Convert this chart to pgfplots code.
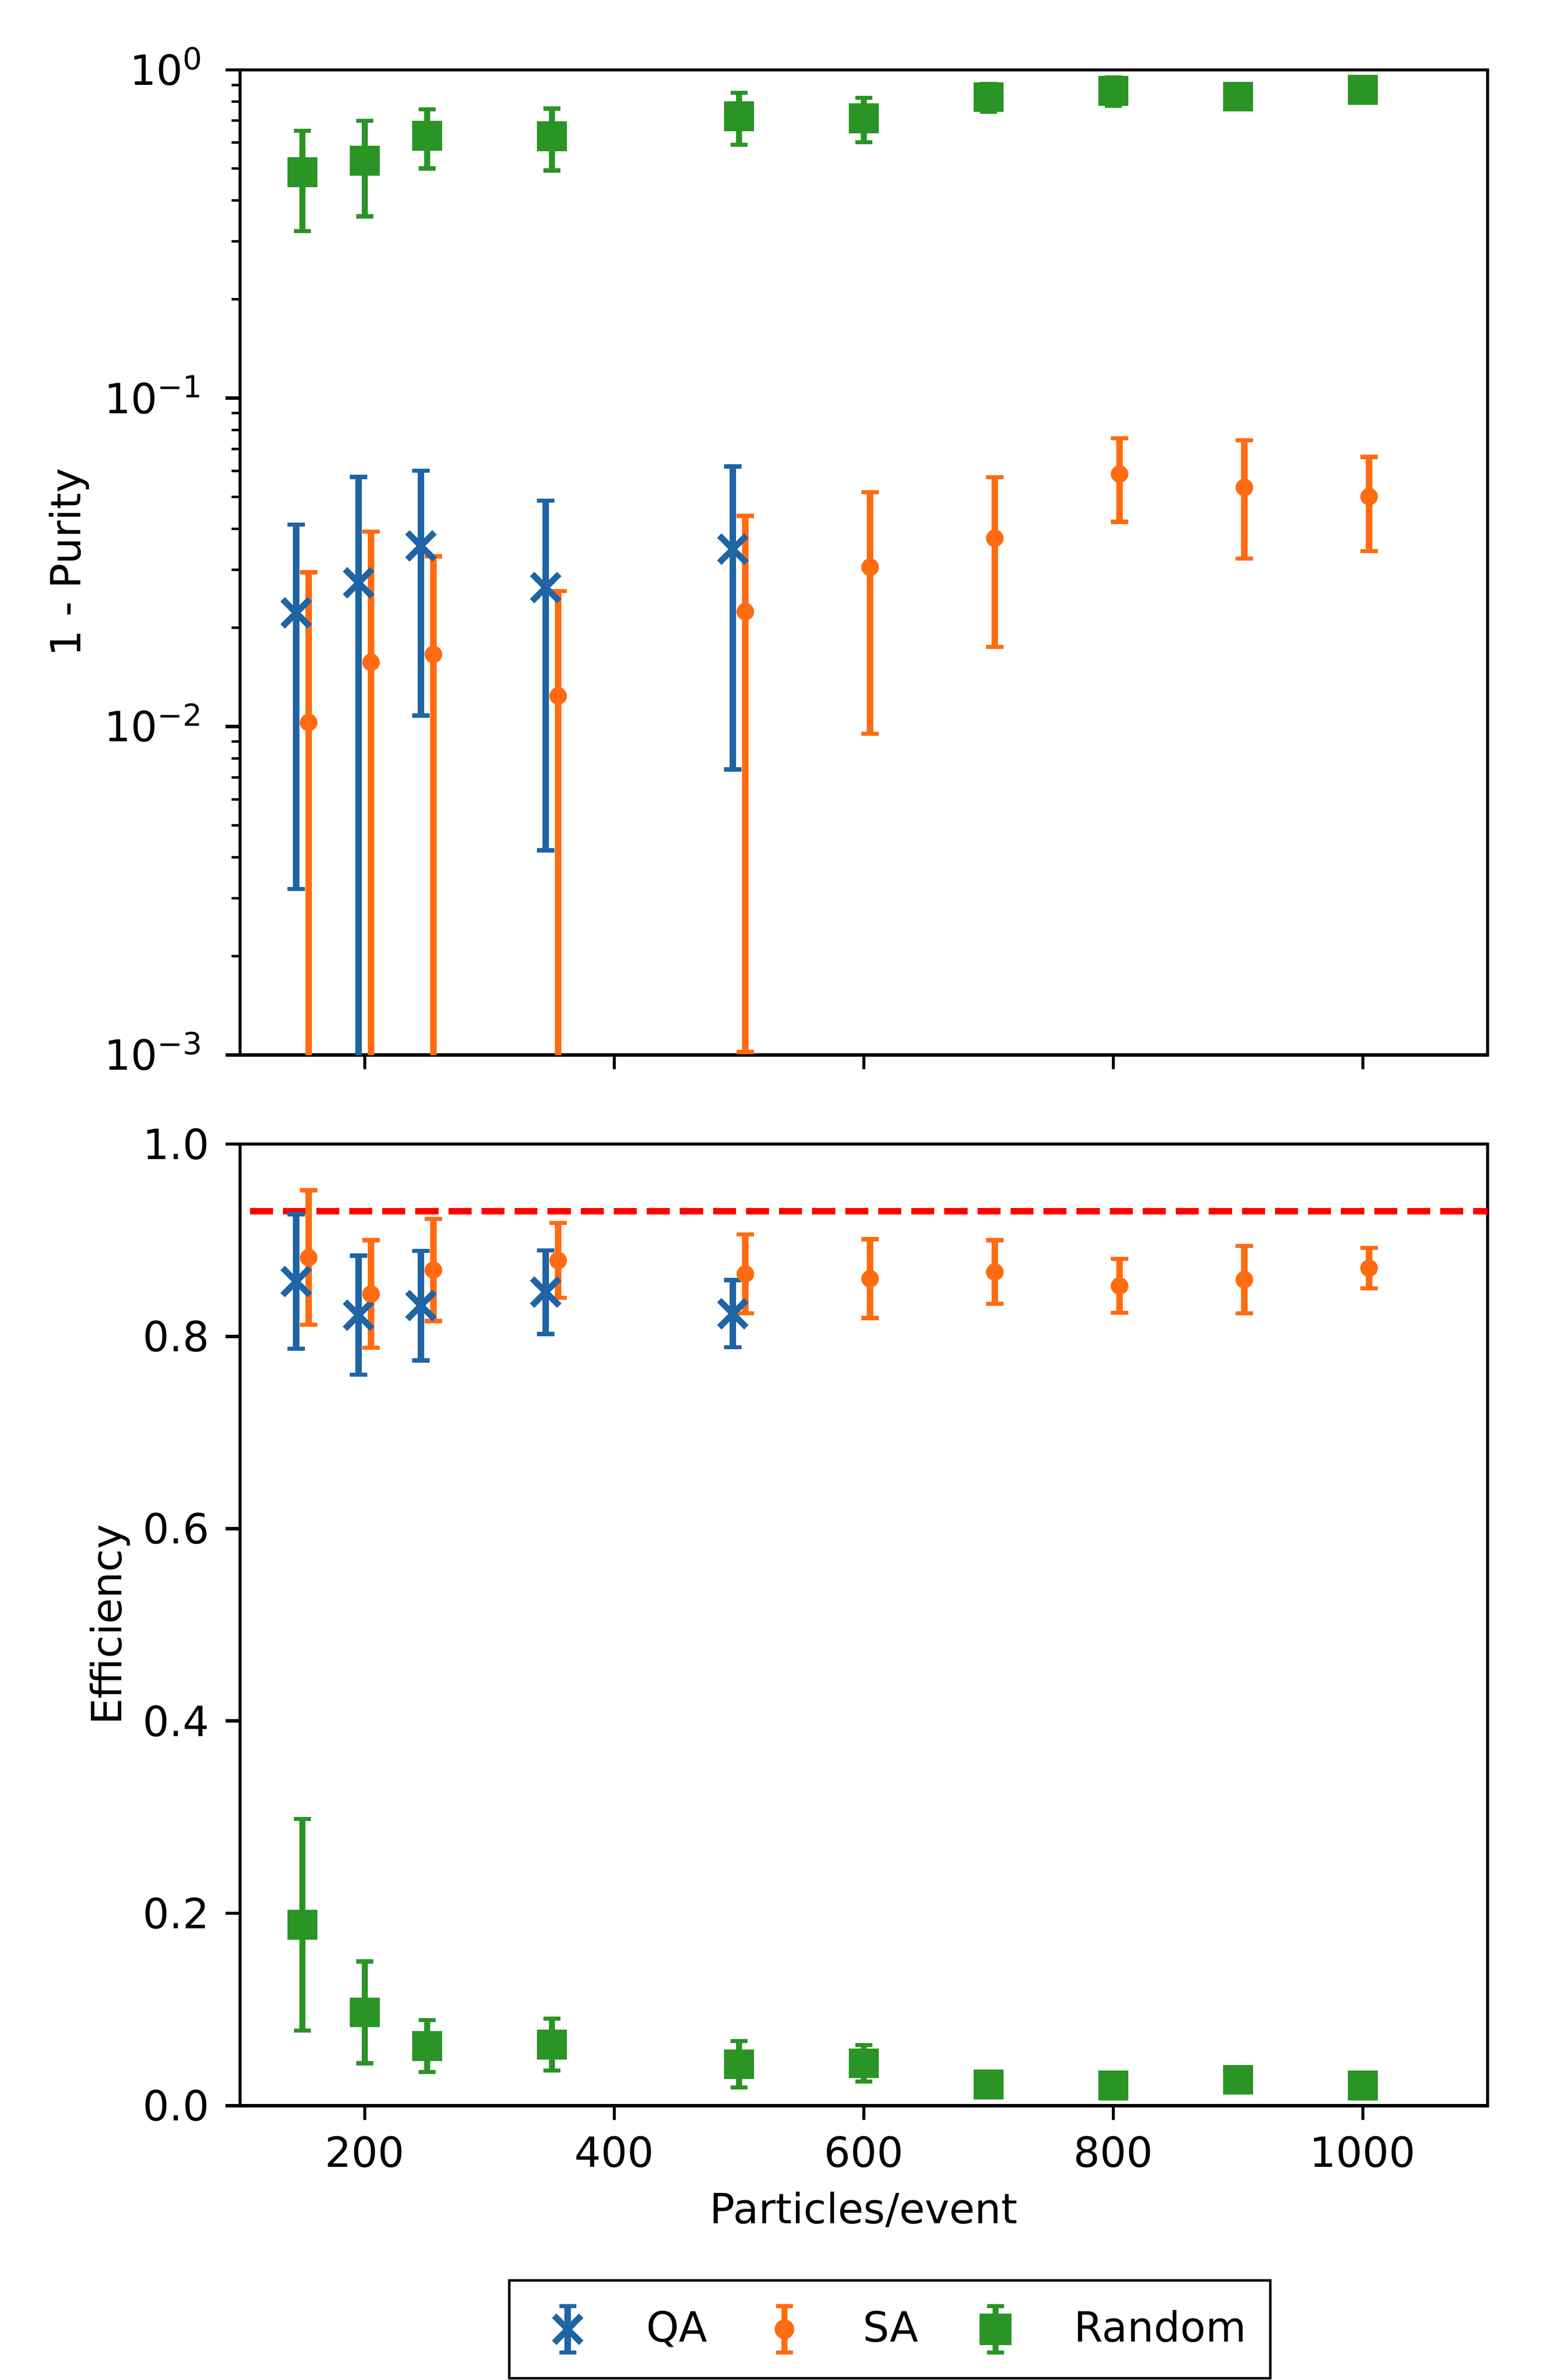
\documentclass[border=0pt]{standalone}
\usepackage{fontspec}
\setmainfont{DejaVu Sans}
\usepackage{pgfplots}
\pgfplotsset{compat=1.18}
\definecolor{qa}{RGB}{31,100,165}
\definecolor{sa}{RGB}{255,107,16}
\definecolor{rnd}{RGB}{42,148,36}
\newcommand{\tp}[1]{10\raisebox{3.75pt}[0pt][0pt]{\fontsize{7.3}{8}\selectfont #1}}
\pgfplotsset{
  common/.style={
    scale only axis, width=300pt,
    xmin=100, xmax=1100,
    xtick={200,400,600,800,1000},
    tick pos=left, tick align=outside,
    axis line style={line width=0.8pt},
    major tick style={black, line width=0.8pt},
    minor tick style={black, line width=0.6pt},
    major tick length=3.5pt, minor tick length=2pt,
    tick label style={font=\fontsize{10}{12}\selectfont},
    label style={font=\fontsize{10}{12}\selectfont},
    /pgf/number format/assume math mode=true,
    /pgf/number format/1000 sep={},
    xticklabel style={anchor=north, inner sep=0pt, yshift=-3.7pt},
    yticklabel style={anchor=east, inner sep=0pt, xshift=-3.7pt},
  },
  ebar/.style={error bars/y dir=both, error bars/y explicit,
     error bars/error bar style={line width=1.5pt, color=#1},
     error bars/error mark options={rotate=90, mark size=2.05pt, line width=1pt, color=#1}},
  qast/.style={only marks, color=qa, mark=x, mark size=4.6pt, mark options={line width=1.5pt}, ebar=qa},
  sast/.style={only marks, color=sa, mark=*, mark size=2.05pt, mark options={draw=sa, fill=sa, line width=0pt}, ebar=sa},
  rndst/.style={only marks, color=rnd, mark=square*, mark size=3.5pt, mark options={draw=rnd, fill=rnd, line width=0pt}, ebar=rnd},
}
\begin{document}
\begin{tikzpicture}
% ---------------- top panel ----------------
\begin{axis}[common,
  at={(57.72pt,318.56pt)}, anchor=south west, height=236.8pt,
  ymode=log, ymin=1e-3, ymax=1,
  ytick={0.001,0.01,0.1,1},
  yticklabels={\tp{−3},\tp{−2},\tp{−1},\tp{0}},
  minor ytick={0.002,0.003,0.004,0.005,0.006,0.007,0.008,0.009,0.02,0.03,0.04,0.05,0.06,0.07,0.08,0.09,0.2,0.3,0.4,0.5,0.6,0.7,0.8,0.9},
  xticklabels={},
  yticklabel style={xshift=-1.7pt},
  ylabel={1 - Purity},
  ylabel style={at={(axis description cs:-0.1277,0.5)}, anchor=base},
]
\addplot[qast] coordinates {
 (145,0.0222) +- (0,0.019)
 (195,0.0274) += (0,0.0302) -= (0,0.0273)
 (245,0.0355) +- (0,0.0247)
 (345,0.0265) +- (0,0.0223)
 (495,0.0347) +- (0,0.0273)
};
\addplot[sast] coordinates {
 (155,0.0103) += (0,0.0192) -= (0,0.0102)
 (205,0.0157) += (0,0.0235) -= (0,0.0156)
 (255,0.0166) += (0,0.0164) -= (0,0.0165)
 (355,0.0124) += (0,0.0135) -= (0,0.0123)
 (505,0.0224) += (0,0.0214) -= (0,0.02138)
 (605,0.0306) +- (0,0.0211)
 (705,0.0375) +- (0,0.0200)
 (805,0.0588) +- (0,0.0168)
 (905,0.0535) +- (0,0.0210)
 (1005,0.0502) +- (0,0.0160)
};
\addplot[rndst] coordinates {
 (150,0.488) +- (0,0.165)
 (200,0.529) +- (0,0.171)
 (250,0.630) +- (0,0.129)
 (350,0.628) +- (0,0.134)
 (500,0.722) +- (0,0.130)
 (600,0.712) +- (0,0.110)
 (700,0.826) +- (0,0.080)
 (800,0.863) +- (0,0.085)
 (900,0.829) +- (0,0.060)
 (1000,0.869) +- (0,0.060)
};
\end{axis}
% ---------------- bottom panel ----------------
\begin{axis}[common,
  at={(57.72pt,65.96pt)}, anchor=south west, height=231.17pt,
  ymin=0, ymax=1,
  ytick={0,0.2,0.4,0.6,0.8,1},
  yticklabel style={/pgf/number format/.cd, fixed, fixed zerofill, precision=1},
  xlabel={Particles/event},
  xlabel style={at={(axis description cs:0.5,-0.1224)}, anchor=base},
  ylabel={Efficiency},
  ylabel style={at={(axis description cs:-0.0948,0.5)}, anchor=base},
  legend columns=3,
  legend style={at={(axis description cs:0.5208,-0.2326)}, anchor=center,
    draw=black, line width=0.6pt, fill=white,
    inner xsep=5.8pt, inner ysep=5.3pt,
    /tikz/every odd column/.style={column sep=13.9pt},
    /tikz/every even column/.style={column sep=13.5pt},
    nodes={inner xsep=0pt, inner ysep=0pt},
    cells={inner xsep=0pt, inner ysep=0pt, anchor=west},
    font=\fontsize{10}{12}\selectfont},
]
\addplot[red, line width=1.5pt, dash pattern=on 5.55pt off 2.4pt, dash phase=5.55pt, forget plot] coordinates {(100,0.93) (1100,0.93)};
\addplot[qast, legend image code/.code={
   \path[draw=none, fill=none] (-8.3pt,-6.5pt) rectangle (5pt,6.5pt);
   \draw[qa, line width=1.5pt] (0pt,-5.6pt) -- (0pt,5.6pt);
   \draw[qa, line width=1pt] (-2.05pt,-5.6pt) -- (2.05pt,-5.6pt) (-2.05pt,5.6pt) -- (2.05pt,5.6pt);
   \draw[qa, line width=1.5pt] (-3.25pt,-3.25pt) -- (3.25pt,3.25pt) (-3.25pt,3.25pt) -- (3.25pt,-3.25pt);
 }] coordinates {
 (145,0.857) +- (0,0.070)
 (195,0.822) +- (0,0.062)
 (245,0.832) +- (0,0.057)
 (345,0.846) +- (0,0.0435)
 (495,0.8235) +- (0,0.035)
};
\addlegendentry{QA}
\addplot[sast, legend image code/.code={
   \path[draw=none, fill=none] (-5pt,-6.5pt) rectangle (5pt,6.5pt);
   \draw[sa, line width=1.5pt] (0pt,-5.6pt) -- (0pt,5.6pt);
   \draw[sa, line width=1pt] (-2.05pt,-5.6pt) -- (2.05pt,-5.6pt) (-2.05pt,5.6pt) -- (2.05pt,5.6pt);
   \fill[sa] (0pt,0pt) circle (2.05pt);
 }] coordinates {
 (155,0.882) +- (0,0.070)
 (205,0.844) +- (0,0.056)
 (255,0.869) +- (0,0.053)
 (355,0.879) +- (0,0.039)
 (505,0.865) +- (0,0.041)
 (605,0.860) +- (0,0.041)
 (705,0.867) +- (0,0.033)
 (805,0.8525) +- (0,0.028)
 (905,0.859) +- (0,0.035)
 (1005,0.871) +- (0,0.021)
};
\addlegendentry{SA}
\addplot[rndst, legend image code/.code={
   \path[draw=none, fill=none] (-5pt,-6.5pt) rectangle (5pt,6.5pt);
   \draw[rnd, line width=1.5pt] (0pt,-5.6pt) -- (0pt,5.6pt);
   \draw[rnd, line width=1pt] (-2.05pt,-5.6pt) -- (2.05pt,-5.6pt) (-2.05pt,5.6pt) -- (2.05pt,5.6pt);
   \fill[rnd] (-3.5pt,-3.5pt) rectangle (3.5pt,3.5pt);
 }] coordinates {
 (150,0.188) +- (0,0.110)
 (200,0.097) +- (0,0.053)
 (250,0.062) +- (0,0.027)
 (350,0.0635) +- (0,0.027)
 (500,0.043) +- (0,0.024)
 (600,0.044) +- (0,0.019)
 (700,0.022) +- (0,0.006)
 (800,0.021) +- (0,0.005)
 (900,0.027) +- (0,0.006)
 (1000,0.021) +- (0,0.005)
};
\addlegendentry{Random}
\end{axis}
\pgfresetboundingbox
\path[use as bounding box] (0pt,0pt) rectangle (371.28pt,572.16pt);
\end{tikzpicture}
\end{document}
